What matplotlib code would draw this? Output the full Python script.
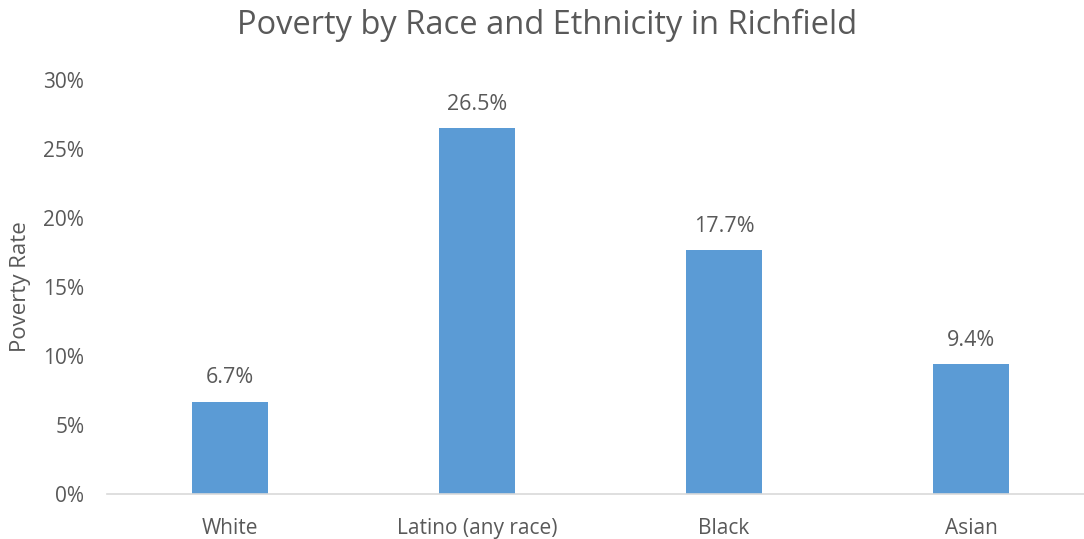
import numpy as np
import matplotlib.pyplot as plt
from matplotlib.ticker import FuncFormatter

plt.rcParams['font.family'] = ['Open Sans', 'DejaVu Sans']

groups = ['White', 'Latino (any race)', 'Black', 'Asian']
poverty_rate = [6.7, 26.5, 17.7, 9.4]
y_ticks = [0, 5, 10, 15, 20, 25, 30]

text_gray = '#595959'
bar_blue = '#5B9BD5'

fig = plt.figure(figsize=(10.84, 5.39), dpi=100)
ax = fig.add_axes([0.0983, 0.0835, 0.9114, 0.768])

x = np.arange(len(groups))
bars = ax.bar(x, poverty_rate, width=0.31, color=bar_blue, zorder=2)

# value labels sit just above each bar
for b, v in zip(bars, poverty_rate):
    ax.text(b.get_x() + b.get_width() / 2, v + 0.95, '%.1f%%' % v,
            ha='center', va='bottom', fontsize=15.5, color=text_gray)

ax.set_xlim(-0.5, len(groups) - 0.5)
ax.set_ylim(0, 30)
ax.set_yticks(y_ticks)
ax.yaxis.set_major_formatter(FuncFormatter(lambda v, p: '%d%%' % v))
ax.set_xticks(x)
ax.set_xticklabels(groups)
ax.tick_params(axis='both', length=0, labelsize=15, colors=text_gray)
ax.tick_params(axis='y', pad=16)
ax.tick_params(axis='x', pad=17)

for side in ['top', 'right', 'left']:
    ax.spines[side].set_visible(False)
ax.spines['bottom'].set_color('#D9D9D9')
ax.spines['bottom'].set_linewidth(1.2)

ax.set_ylabel('Poverty Rate', fontsize=16, color=text_gray, labelpad=9)

fig.text(0.505, 0.952, 'Poverty by Race and Ethnicity in Richfield',
         ha='center', va='center', fontsize=23.5, color=text_gray)

fig.savefig('out.png', dpi=100)
